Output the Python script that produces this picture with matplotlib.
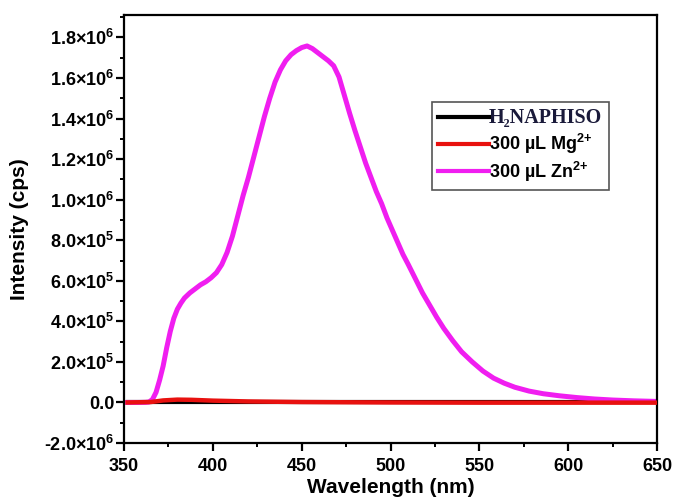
import numpy as np
import matplotlib
matplotlib.use('Agg')
import matplotlib.pyplot as plt
from matplotlib.ticker import MultipleLocator, FixedLocator

plt.rcParams['font.family'] = ['Liberation Sans', 'DejaVu Sans']
plt.rcParams['font.weight'] = 'bold'
plt.rcParams['mathtext.fontset'] = 'custom'
plt.rcParams['mathtext.rm'] = 'Liberation Sans:bold'
plt.rcParams['mathtext.it'] = 'Liberation Sans:bold'
plt.rcParams['mathtext.bf'] = 'Liberation Sans:bold'
plt.rcParams['mathtext.default'] = 'rm'

# emission spectra
wl_zn = [352, 358, 362, 364, 366, 368, 370, 372, 374, 376, 378, 380, 382, 384, 387, 390,
         393, 396, 399, 402, 405, 408, 411, 414, 417, 420, 423, 426, 429, 432, 435, 438,
         441, 444, 447, 450, 453, 456, 459, 462, 465, 468, 471, 474, 477, 480, 483, 486,
         489, 492, 495, 498, 501, 504, 507, 510, 514, 518, 522, 526, 530, 535, 540, 546,
         552, 558, 564, 570, 578, 586, 595, 605, 615, 625, 637, 650]
int_zn = [0, 0, 0.005e5, 0.02e5, 0.15e5, 0.5e5, 1.1e5, 1.8e5, 2.7e5, 3.5e5, 4.15e5, 4.6e5, 4.9e5, 5.15e5, 5.4e5, 5.6e5,
          5.8e5, 5.95e5, 6.15e5, 6.4e5, 6.8e5, 7.4e5, 8.2e5, 9.2e5, 10.2e5, 11.1e5, 12.1e5, 13.1e5, 14.1e5, 15.0e5, 15.8e5, 16.4e5,
          16.85e5, 17.15e5, 17.35e5, 17.5e5, 17.58e5, 17.45e5, 17.25e5, 17.05e5, 16.85e5, 16.6e5, 16.05e5, 15.15e5, 14.25e5, 13.4e5, 12.6e5, 11.8e5,
          11.1e5, 10.4e5, 9.8e5, 9.1e5, 8.5e5, 7.9e5, 7.3e5, 6.8e5, 6.1e5, 5.4e5, 4.8e5, 4.2e5, 3.65e5, 3.05e5, 2.5e5, 2.0e5,
          1.55e5, 1.2e5, 0.95e5, 0.75e5, 0.56e5, 0.43e5, 0.33e5, 0.24e5, 0.17e5, 0.12e5, 0.08e5, 0.05e5]

wl_mg = [352, 365, 372, 380, 388, 400, 420, 450, 500, 550, 600, 650]
int_mg = [0, 0.02e5, 0.1e5, 0.14e5, 0.13e5, 0.09e5, 0.05e5, 0.02e5, 0.0, -0.01e5, -0.01e5, -0.01e5]

wl_free = [352, 400, 450, 500, 550, 600, 650]
int_free = [0, 0, 0, 0, 0, 0, 0]

labels = ['H\u2082NAPHISO', r'300 µL Mg$^{2{+}}$', r'300 µL Zn$^{2{+}}$']
colors = ['black', '#e8110f', '#f01ef0']

yticks = [-2e5, 0, 2e5, 4e5, 6e5, 8e5, 1.0e6, 1.2e6, 1.4e6, 1.6e6, 1.8e6]
yticklabels = [r'-2.0×10$^{6}$', '0.0', r'2.0×10$^{5}$', r'4.0×10$^{5}$', r'6.0×10$^{5}$',
               r'8.0×10$^{5}$', r'1.0×10$^{6}$', r'1.2×10$^{6}$', r'1.4×10$^{6}$',
               r'1.6×10$^{6}$', r'1.8×10$^{6}$']

fig = plt.figure(figsize=(6.78, 5.04), dpi=100)
ax = fig.add_axes([0.183, 0.121, 0.786, 0.849])

l1, = ax.plot(wl_free, int_free, color=colors[0], lw=3, label=labels[0])
l2, = ax.plot(wl_mg, int_mg, color=colors[1], lw=3.2, label=labels[1])
l3, = ax.plot(wl_zn, int_zn, color=colors[2], lw=3.6, label=labels[2],
              solid_joinstyle='round')
l2.set_zorder(3)
l3.set_zorder(2)

ax.set_xlim(350, 650)
ax.set_ylim(-2e5, 1.91e6)
ax.xaxis.set_major_locator(MultipleLocator(50))
ax.xaxis.set_minor_locator(MultipleLocator(25))
ax.yaxis.set_major_locator(FixedLocator(yticks))
ax.yaxis.set_minor_locator(MultipleLocator(1e5))
ax.set_yticklabels(yticklabels)

for s in ax.spines.values():
    s.set_linewidth(1.6)
ax.tick_params(which='major', direction='out', length=6, width=1.6, labelsize=13)
ax.tick_params(which='minor', direction='out', length=3, width=1.4)
ax.tick_params(axis='y', pad=1)
ax.tick_params(axis='x', pad=5)

ax.set_xlabel('Wavelength (nm)', fontsize=15, fontweight='bold', labelpad=2)
ax.set_ylabel('Intensity (cps)', fontsize=15, fontweight='bold', labelpad=11)

leg = ax.legend(loc='upper left', bbox_to_anchor=(0.578, 0.797), fontsize=13,
                frameon=True, fancybox=False, edgecolor='#555555', framealpha=1,
                handlelength=2.8, handletextpad=0.0, borderpad=0.35, labelspacing=0.2,
                borderaxespad=0)
leg.get_frame().set_linewidth(1.2)
for ln in leg.get_lines():
    ln.set_linewidth(3)
txt = leg.get_texts()[0]
txt.set_family(['Liberation Serif', 'DejaVu Serif'])
txt.set_color('#1a1a3a')
txt.set_fontsize(14.5)

fig.savefig('out.png', dpi=100)
